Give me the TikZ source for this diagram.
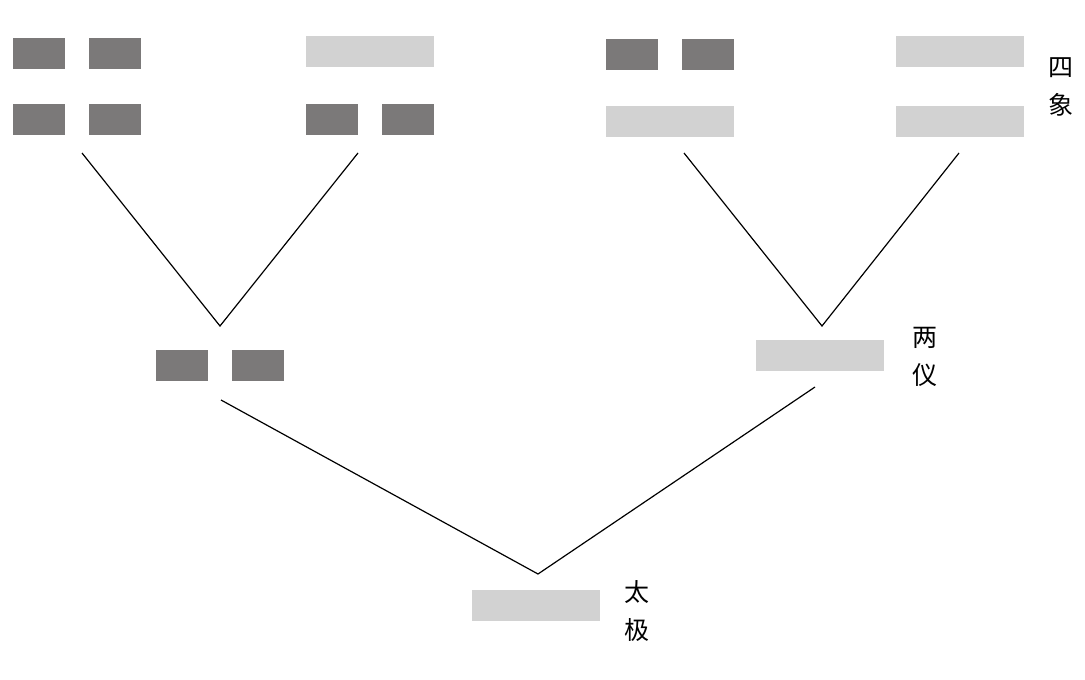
\documentclass[tikz,border=0pt]{standalone}
\usepackage{fontspec}
\newfontfamily\cjk{Noto Sans CJK SC}
\usetikzlibrary{positioning}
\definecolor{yinc}{RGB}{123,121,121}
\definecolor{yangc}{RGB}{210,210,210}

\begin{document}
\begin{tikzpicture}[x=1pt,y=-1pt,
  yin/.style={fill=yinc,minimum width=52pt,minimum height=31pt,inner sep=0pt},
  yang/.style={fill=yangc,minimum width=128pt,minimum height=31pt,inner sep=0pt},
  lbl/.style={font=\cjk\fontsize{25}{38}\selectfont,align=center,inner sep=0pt},
  branch/.style={line width=1.2pt}]
\useasboundingbox (0,0) rectangle (1085,680);
% four images
\node[yin] (g1a) at (39,53.5) {};
\node[yin] (g1b) at (115,53.5) {};
\node[yin] (g1c) at (39,119.5) {};
\node[yin] (g1d) at (115,119.5) {};
\node[yang] (g2a) at (370,51.5) {};
\node[yin] (g2c) at (332,119.5) {};
\node[yin] (g2d) at (408,119.5) {};
\node[yin] (g3a) at (632,54.5) {};
\node[yin] (g3b) at (708,54.5) {};
\node[yang] (g3c) at (670,121.5) {};
\node[yang] (g4a) at (960,51.5) {};
\node[yang] (g4c) at (960,121.5) {};
\node[lbl] (sixiang) at (1061,87) {四\\象};
% two modes
\node[yin] (m1a) at (182,365.5) {};
\node[yin] (m1b) at (258,365.5) {};
\node[yang] (m2) at (820,355.5) {};
\node[lbl] (liangyi) at (925,357) {两\\仪};
% supreme ultimate
\node[yang] (tj) at (536,605.5) {};
\node[lbl] (taiji) at (637,611) {太\\极};
% branches
\coordinate (p1) at (82,153);
\coordinate (p2) at (358,153);
\coordinate (p3) at (684,153);
\coordinate (p4) at (959,153);
\coordinate (q1) at (220,326);
\coordinate (q2) at (822,326);
\coordinate (r1) at (221,400);
\coordinate (r2) at (815,387);
\coordinate (s) at (538,574);
\draw[branch] (p1) -- (q1) -- (p2);
\draw[branch] (p3) -- (q2) -- (p4);
\draw[branch] (r1) -- (s) -- (r2);
\end{tikzpicture}
\end{document}
